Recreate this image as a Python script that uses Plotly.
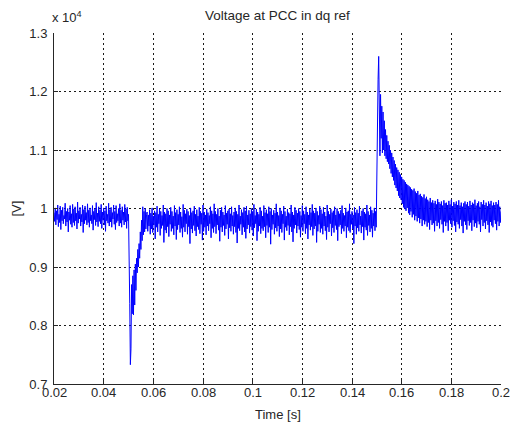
import numpy as np
import plotly.graph_objects as go

# sampling of the recorded signal
t_start = 0.02
t_step = 0.00025

# voltage at PCC (V), segment by segment
v_prefault = [
    9930, 9780, 10010, 9720, 9960, 9810, 10060, 9690, 9900, 9760,
    10040, 9640, 9970, 9790, 10020, 9740, 9880, 9820, 10090, 9700,
    9950, 9770, 10000, 9600, 9940, 9800, 10050, 9730, 9910, 9680,
    10070, 9760, 9990, 9710, 10030, 9790, 9920, 9650, 10110, 9750,
    9960, 9820, 10020, 9700, 9900, 9770, 10060, 9590, 9980, 9740,
    10040, 9800, 9930, 9720, 10080, 9760, 9970, 9680, 10010, 9790,
    9890, 9740, 10050, 9630, 9950, 9810, 10000, 9710, 10100, 9770,
    9920, 9690, 10030, 9780, 9970, 9740, 10070, 9660, 9940, 9800,
    10010, 9720, 9960, 9610, 10040, 9790, 9900, 9750, 10090, 9700,
    9980, 9770, 10020, 9680, 9930, 9820, 10060, 9730, 9950, 9640,
    10050, 9760, 9910, 9790, 10000, 9700, 10080, 9750, 9970, 9680,
    10030, 9800, 9940, 9720, 10070, 9770, 9990, 9660, 10020, 9790]
v_dip = [
    9900, 9400, 8380, 7330, 7600, 8700, 8200, 8850, 8180, 8950,
    8350, 9050, 8600, 9150, 8900, 9300, 9000, 9400, 9150, 9600,
    9300, 9800, 9450, 10030, 9550, 9950, 9600, 10000, 9650, 9900]
v_steady = [
    9940, 9610, 9890, 9700, 9980, 9560, 9920, 9650, 10010, 9590,
    9870, 9720, 9960, 9480, 9930, 9680, 10040, 9600, 9900, 9740,
    9990, 9540, 9950, 9660, 9880, 9710, 10060, 9420, 9940, 9630,
    9910, 9580, 10000, 9690, 9960, 9520, 9890, 9730, 10020, 9610,
    9950, 9660, 9870, 9550, 10050, 9700, 9930, 9470, 9980, 9640,
    9900, 9720, 10030, 9590, 9940, 9660, 9860, 9510, 10070, 9680,
    9970, 9600, 9910, 9740, 9990, 9560, 9950, 9690, 9880, 9400,
    10010, 9650, 9930, 9580, 9960, 9710, 10040, 9620, 9900, 9530,
    9980, 9690, 9870, 9640, 10020, 9570, 9950, 9730, 9920, 9460,
    10060, 9610, 9940, 9680, 9890, 9550, 9990, 9700, 9930, 9620,
    9880, 9740, 10030, 9500, 9960, 9660, 9910, 9590, 10080, 9690,
    9950, 9570, 9900, 9720, 10000, 9630, 9870, 9440, 9970, 9680,
    10020, 9600, 9940, 9710, 9890, 9540, 10050, 9650, 9920, 9730,
    9960, 9480, 9990, 9670, 9910, 9610, 10030, 9700, 9880, 9560,
    9940, 9690, 10010, 9590, 9950, 9410, 9900, 9660, 10060, 9620,
    9870, 9730, 9980, 9550, 9930, 9680, 10020, 9600, 9960, 9490,
    10040, 9650, 9890, 9720, 9970, 9580, 9910, 9690, 10000, 9630,
    9950, 9530, 10070, 9670, 9880, 9740, 9990, 9450, 9940, 9610,
    9900, 9700, 10020, 9570, 9960, 9660, 9870, 9620, 10050, 9690,
    9930, 9500, 9980, 9710, 9910, 9590, 10030, 9680, 9950, 9390,
    10000, 9640, 9890, 9730, 9970, 9560, 9920, 9670, 10080, 9610,
    9940, 9700, 9880, 9520, 10010, 9650, 9960, 9590, 9900, 9740,
    10040, 9460, 9950, 9680, 9870, 9620, 9990, 9710, 9930, 9550,
    9910, 9690, 10060, 9600, 9940, 9430, 9890, 9660, 10020, 9720,
    9970, 9580, 9920, 9700, 10000, 9640, 9950, 9510, 9880, 9680,
    10050, 9610, 9960, 9740, 9900, 9570, 10030, 9660, 9940, 9480,
    9890, 9720, 9990, 9630, 9930, 9690, 10070, 9540, 9960, 9650,
    9920, 9700, 10010, 9420, 9950, 9610, 9880, 9730, 10040, 9590,
    9980, 9660, 9910, 9560, 10020, 9700, 9940, 9620, 9870, 9470,
    10060, 9680, 9950, 9600, 9900, 9740, 9990, 9530, 9930, 9670,
    9960, 9590, 10030, 9710, 9890, 9640, 10000, 9450, 9950, 9690,
    9910, 9720, 9970, 9570, 10050, 9660, 9920, 9610, 9880, 9700,
    10010, 9500, 9940, 9680, 9960, 9620, 10080, 9590, 9900, 9730,
    9950, 9650, 9890, 9400, 10020, 9700, 9930, 9560, 9980, 9670,
    9920, 9610, 10040, 9720, 9870, 9580, 9960, 9690, 10000, 9460,
    9940, 9680, 9910, 9630, 10060, 9540, 9950, 9710, 9890, 9600,
    10030, 9660, 9970, 9510, 9920, 9700, 10010, 9620, 9950, 9680]
v_swell = [
    11000, 11900, 12200, 12600, 11800, 10900, 11950, 11200, 11750, 10950,
    11650, 11000, 11500, 10900, 11350, 10850, 11250, 10800, 11150, 10760,
    11080, 10680, 11000, 10600, 10950, 10540, 10880, 10480, 10820, 10400,
    10760, 10350, 10700, 10300, 10660, 10220, 10620, 10180, 10580, 10150,
    10540, 10080, 10500, 10020, 10480, 9990, 10450, 9960, 10420, 10010,
    10400, 9920, 10380, 9890, 10360, 9950, 10330, 9850, 10310, 9900,
    10340, 9800, 10290, 9870, 10260, 9780, 10300, 9840, 10230, 9750,
    10250, 9820, 10210, 9700, 10190, 9800, 10240, 9730, 10170, 9780,
    10200, 9690, 10150, 9760, 10120, 9640, 10180, 9800, 10100, 9720,
    10140, 9750, 10090, 9610, 10130, 9790, 10070, 9700, 10160, 9760,
    10110, 9660, 10080, 9810, 10120, 9730, 10050, 9590, 10140, 9780,
    10090, 9700, 10100, 9760, 10060, 9620, 10130, 9800, 10070, 9740,
    10150, 9680, 10040, 9790, 10110, 9710, 10080, 9600, 10120, 9770,
    10060, 9730, 10140, 9660, 10050, 9810, 10100, 9700, 10030, 9580,
    10090, 9780, 10120, 9720, 10070, 9640, 10110, 9790, 10040, 9710,
    10130, 9760, 10060, 9620, 10100, 9800, 10080, 9690, 10150, 9750,
    10050, 9670, 10090, 9780, 10120, 9730, 10030, 9600, 10110, 9810,
    10070, 9700, 10140, 9760, 10060, 9650, 10100, 9790, 10040, 9720,
    10120, 9590, 10080, 9770, 10130, 9710, 10050, 9680, 10100, 9800,
    10060, 9740, 10110, 9630, 10070, 9780, 10140, 9700, 10030, 9760,
    9950]

x_ticks = [0.02, 0.04, 0.06, 0.08, 0.1, 0.12, 0.14, 0.16, 0.18, 0.2]
x_labels = ["0.02", "0.04", "0.06", "0.08", "0.1", "0.12", "0.14", "0.16", "0.18", "0.2"]
y_ticks = [0.7, 0.8, 0.9, 1.0, 1.1, 1.2, 1.3]
y_labels = ["0.7", "0.8", "0.9", "1", "1.1", "1.2", "1.3"]
y_scale = 1e4

v_all = v_prefault + v_dip + v_steady + v_swell
t = t_start + t_step * np.arange(len(v_all))
y = np.array(v_all) / y_scale

FONT = "Liberation Sans, Arial, Helvetica, sans-serif"
TXT = "#262626"

fig = go.Figure()
fig.add_trace(go.Scatter(x=t, y=y, mode="lines",
                         line=dict(color="rgb(0,0,255)", width=1),
                         showlegend=False, hoverinfo="skip"))

axis_common = dict(
    showgrid=True, gridcolor="#1a1a1a", gridwidth=1, griddash="2px,3px",
    showline=True, linecolor="#262626", linewidth=1, mirror=False,
    ticks="inside", ticklen=4, tickcolor="#262626", zeroline=False,
    tickfont=dict(family=FONT, size=13, color=TXT),
)

fig.update_xaxes(range=[0.02, 0.2000002], tickvals=x_ticks, showticklabels=False,
                 **axis_common)
fig.update_yaxes(range=[0.7, 1.3], tickvals=y_ticks, ticktext=y_labels,
                 ticklabelstandoff=3, **axis_common)

annotations = [
    dict(text="Voltage at PCC in dq ref", x=0.5, y=1, xref="paper", yref="paper",
         xanchor="center", yanchor="bottom", yshift=8, showarrow=False,
         font=dict(family=FONT, size=13.5, color=TXT)),
    dict(text="x 10<sup>4</sup>", x=0, y=1, xref="paper", yref="paper",
         xanchor="left", yanchor="bottom", xshift=-4, yshift=6, showarrow=False,
         font=dict(family=FONT, size=13, color=TXT)),
    dict(text="Time [s]", x=0.5, y=0, xref="paper", yref="paper",
         xanchor="center", yanchor="top", yshift=-21, showarrow=False,
         font=dict(family=FONT, size=13, color=TXT)),
    dict(text="[V]", x=0, y=0.5, xref="paper", yref="paper",
         xanchor="center", yanchor="middle", xshift=-38, textangle=-90, showarrow=False,
         font=dict(family=FONT, size=13, color=TXT)),
]
for xv, lab in zip(x_ticks, x_labels):
    annotations.append(dict(text=lab, x=xv, y=0, xref="x", yref="paper",
                            xanchor="center", yanchor="top", yshift=1, showarrow=False,
                            font=dict(family=FONT, size=13, color=TXT)))

fig.update_layout(
    width=510, height=423,
    margin=dict(l=54, r=9, t=33, b=39),
    paper_bgcolor="white", plot_bgcolor="white",
    font=dict(family=FONT, size=13, color=TXT),
    annotations=annotations,
)

fig.write_html("out.html")
